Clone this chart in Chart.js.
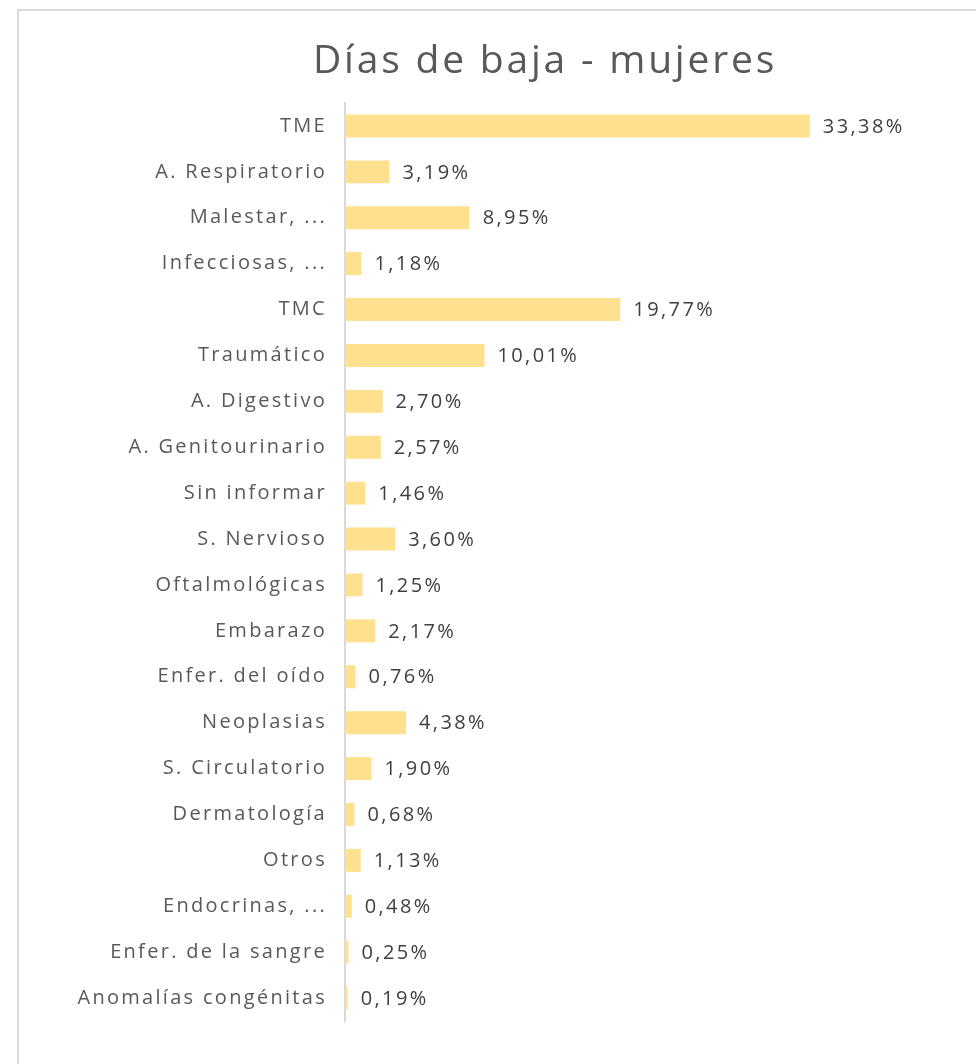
<!DOCTYPE html>
<html>
<head>
<meta charset="utf-8">
<script src="https://cdn.jsdelivr.net/npm/chart.js@4.4.1/dist/chart.umd.min.js"></script>
<style>
  body { margin: 0; background: #fff; }
  #frame {
    position: absolute; left: 17px; top: 9px; width: 1000px; height: 1100px;
    border: 2px solid #d9d9d9; box-sizing: border-box;
  }
  #wrap { position: absolute; left: 0; top: 0; width: 976px; height: 1064px; }
</style>
</head>
<body>
<div id="frame"></div>
<div id="wrap"><canvas id="chart"></canvas></div>
<script>
const chartTitle = 'Días de baja - mujeres';
const categories = [
    'TME', 'A. Respiratorio', 'Malestar, ...', 'Infecciosas, ...', 'TMC',
    'Traumático', 'A. Digestivo', 'A. Genitourinario', 'Sin informar', 'S. Nervioso',
    'Oftalmológicas', 'Embarazo', 'Enfer. del oído', 'Neoplasias', 'S. Circulatorio',
    'Dermatología', 'Otros', 'Endocrinas, ...', 'Enfer. de la sangre', 'Anomalías congénitas'
];
const percentages = [
    33.38, 3.19, 8.95, 1.18, 19.77,
    10.01, 2.70, 2.57, 1.46, 3.60,
    1.25, 2.17, 0.76, 4.38, 1.90,
    0.68, 1.13, 0.48, 0.25, 0.19
];

const fontFamily = '"Open Sans", "DejaVu Sans", sans-serif';

function formatPct(v) {
    return v.toFixed(2).replace('.', ',') + '%';
}

// the original font is much wider, so space the letters out a bit
const spacing = {
    id: 'spacing',
    beforeDraw(chart) {
        chart.ctx.letterSpacing = '2.3px';
    }
};

// title drawn by hand so it sits where the reference has it
const titlePlugin = {
    id: 'titleText',
    afterDraw(chart) {
        const ctx = chart.ctx;
        ctx.save();
        ctx.letterSpacing = '2.8px';
        ctx.font = '39px ' + fontFamily;
        ctx.fillStyle = '#595959';
        ctx.textAlign = 'center';
        ctx.textBaseline = 'middle';
        ctx.fillText(chartTitle, 545, 62);
        ctx.restore();
    }
};

// value labels at the end of every bar
const valueLabels = {
    id: 'valueLabels',
    afterDatasetsDraw(chart) {
        const ctx = chart.ctx;
        const meta = chart.getDatasetMeta(0);
        ctx.save();
        ctx.letterSpacing = '2.4px';
        ctx.font = '20px ' + fontFamily;
        ctx.fillStyle = '#404040';
        ctx.textAlign = 'left';
        ctx.textBaseline = 'middle';
        meta.data.forEach((bar, i) => {
            ctx.fillText(formatPct(percentages[i]), bar.x + 13, bar.y + 1);
        });
        ctx.restore();
    }
};

new Chart(document.getElementById('chart'), {
    type: 'bar',
    data: {
        labels: categories,
        datasets: [{
            data: percentages,
            backgroundColor: '#ffe08f',
            categoryPercentage: 0.5,
            barPercentage: 1.0
        }]
    },
    options: {
        indexAxis: 'y',
        responsive: true,
        maintainAspectRatio: false,
        animation: false,
        layout: {
            padding: { top: 103, bottom: 43, left: 0, right: 74 }
        },
        plugins: {
            legend: { display: false },
            tooltip: { enabled: false }
        },
        scales: {
            x: {
                display: false,
                min: 0,
                max: 40
            },
            y: {
                afterFit(scale) { scale.width = 345; },
                grid: { display: false, drawTicks: false },
                border: { display: true, color: '#d9d9d9', width: 2 },
                ticks: {
                    padding: 18,
                    color: '#595959',
                    font: { family: fontFamily, size: 20 }
                }
            }
        }
    },
    plugins: [spacing, titlePlugin, valueLabels]
});
</script>
</body>
</html>
